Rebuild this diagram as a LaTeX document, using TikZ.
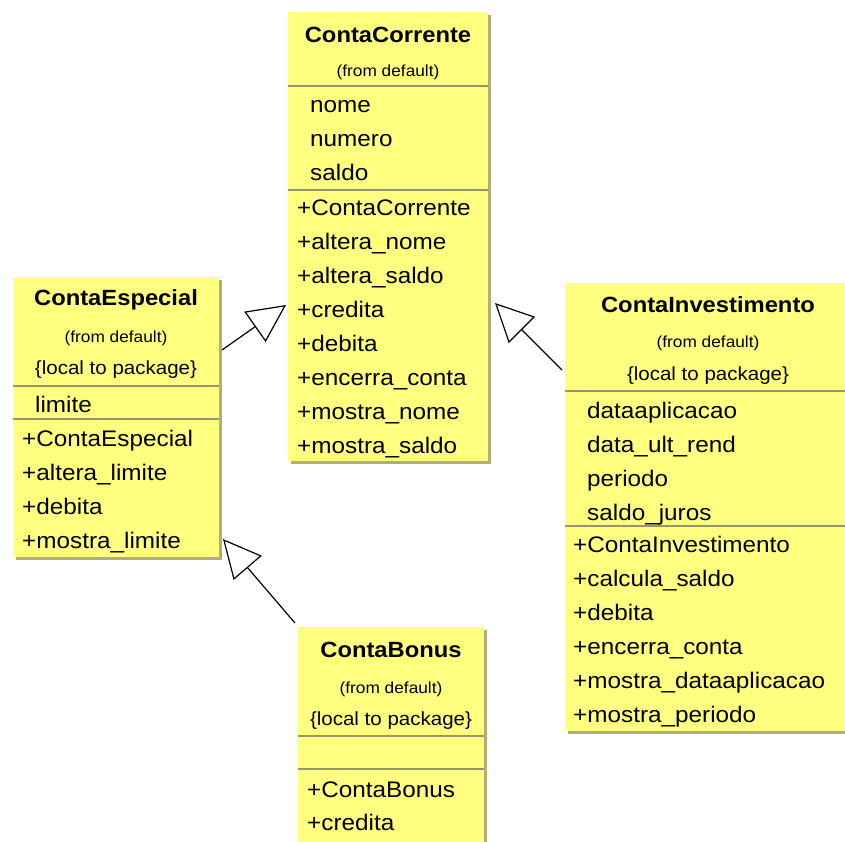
\documentclass[tikz,border=0pt]{standalone}
\usepackage{fontspec}
\setmainfont{Liberation Sans}
\newfontfamily\umlfont[FakeStretch=1.08]{Liberation Sans}
\usetikzlibrary{arrows.meta,shadows}
\definecolor{umlyellow}{RGB}{255,255,128}
\definecolor{umlshadow}{RGB}{176,176,118}
\definecolor{umlrule}{RGB}{150,150,110}

\begin{document}
\begin{tikzpicture}[x=1pt,y=-1pt,
  classbox/.style={fill=umlyellow, draw=none, anchor=north west, inner sep=0pt, outer sep=0pt,
    drop shadow={shadow xshift=3pt, shadow yshift=-3pt, fill=umlshadow, opacity=1}},
  classname/.style={font=\umlfont\fontsize{22}{26}\selectfont\bfseries, anchor=base, inner sep=0pt},
  origin/.style={font=\umlfont\fontsize{16}{19}\selectfont, anchor=base, inner sep=0pt},
  visibility/.style={font=\umlfont\fontsize{19}{23}\selectfont, anchor=base, inner sep=0pt},
  member/.style={font=\umlfont\fontsize{22.5}{27}\selectfont, anchor=base west, inner sep=0pt},
  rule/.style={draw=umlrule, line width=1.2pt},
  generalization/.style={draw=black, line width=1.2pt,
    -{Triangle[open, length=38pt, width=37pt, line width=1.2pt]}}
]
\useasboundingbox (0,0) rectangle (845,841);
\clip (0,0) rectangle (845,841);

% ---------- ContaCorrente ----------
\node[classbox, minimum width=200pt, minimum height=449pt] (cc) at (288,12) {};
\node[classname] (cc-name) at (388,42) {ContaCorrente};
\node[origin] (cc-from) at (388,76) {(from default)};
\draw[rule] (cc.west |- 0,86) -- (cc.east |- 0,86);
\foreach \t [count=\i] in {nome,numero,saldo}
  \node[member] (cc-a\i) at (310,{112+34*(\i-1)}) {\t};
\draw[rule] (cc.west |- 0,190) -- (cc.east |- 0,190);
\foreach \t [count=\i] in {+ContaCorrente,+altera\_nome,+altera\_saldo,+credita,+debita,+encerra\_conta,+mostra\_nome,+mostra\_saldo}
  \node[member] (cc-m\i) at (297,{215+34*(\i-1)}) {\t};

% ---------- ContaEspecial ----------
\node[classbox, minimum width=206pt, minimum height=280pt] (ce) at (13,277) {};
\node[classname] (ce-name) at (116,305) {ContaEspecial};
\node[origin] (ce-from) at (116,342) {(from default)};
\node[visibility] (ce-vis) at (116,374) {\{local to package\}};
\draw[rule] (ce.west |- 0,386) -- (ce.east |- 0,386);
\node[member] (ce-a1) at (35,412) {limite};
\draw[rule] (ce.west |- 0,419) -- (ce.east |- 0,419);
\foreach \t [count=\i] in {+ContaEspecial,+altera\_limite,+debita,+mostra\_limite}
  \node[member] (ce-m\i) at (22,{446+34*(\i-1)}) {\t};

% ---------- ContaInvestimento ----------
\node[classbox, minimum width=286pt, minimum height=448pt] (ci) at (565,283) {};
\node[classname] (ci-name) at (708,312) {ContaInvestimento};
\node[origin] (ci-from) at (708,347) {(from default)};
\node[visibility] (ci-vis) at (708,380) {\{local to package\}};
\draw[rule] (ci.west |- 0,391) -- (ci.east |- 0,391);
\foreach \t [count=\i] in {dataaplicacao,data\_ult\_rend,periodo,saldo\_juros}
  \node[member] (ci-a\i) at (587,{418+34*(\i-1)}) {\t};
\draw[rule] (ci.west |- 0,526) -- (ci.east |- 0,526);
\foreach \t [count=\i] in {+ContaInvestimento,+calcula\_saldo,+debita,+encerra\_conta,+mostra\_dataaplicacao,+mostra\_periodo}
  \node[member] (ci-m\i) at (573,{552+34*(\i-1)}) {\t};

% ---------- ContaBonus ----------
\node[classbox, minimum width=186pt, minimum height=243pt] (cb) at (298,627) {};
\node[classname] (cb-name) at (391,657) {ContaBonus};
\node[origin] (cb-from) at (391,693) {(from default)};
\node[visibility] (cb-vis) at (391,725) {\{local to package\}};
\draw[rule] (cb.west |- 0,736) -- (cb.east |- 0,736);
\draw[rule] (cb.west |- 0,769) -- (cb.east |- 0,769);
\foreach \t [count=\i] in {+ContaBonus,+credita}
  \node[member] (cb-m\i) at (307,{797+33*(\i-1)}) {\t};

% ---------- generalizations ----------
\draw[generalization] ([xshift=3pt,yshift=67pt]ce.east) -- ([xshift=-2pt,yshift=-68.5pt]cc.west);
\draw[generalization] ([xshift=-3pt,yshift=137pt]ci.west) -- ([xshift=7pt,yshift=-66.5pt]cc.east);
\draw[generalization] ([xshift=-3pt,yshift=4pt]cb.north west) -- ([xshift=4pt,yshift=18pt]ce.south east);
\end{tikzpicture}
\end{document}
